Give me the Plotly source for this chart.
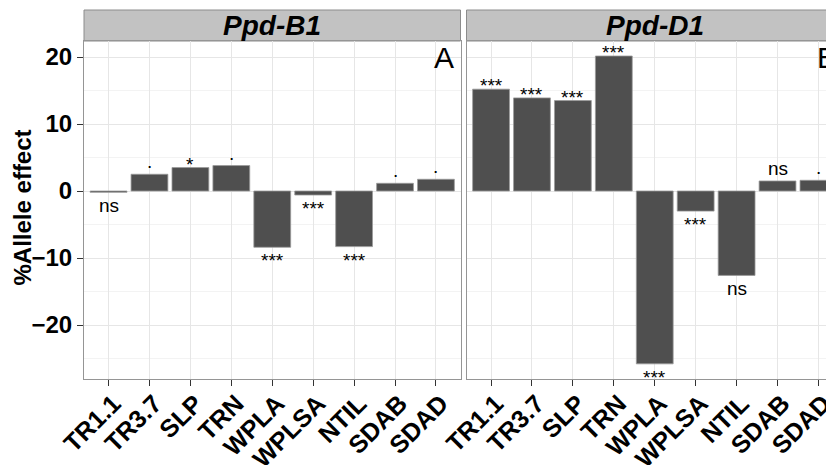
import plotly.graph_objects as go

traits = ["TR1.1", "TR3.7", "SLP", "TRN", "WPLA", "WPLSA", "NTIL", "SDAB", "SDAD"]
b1_effect = [-0.2, 2.5, 3.5, 3.8, -8.4, -0.6, -8.3, 1.15, 1.75]
d1_effect = [15.2, 13.9, 13.5, 20.15, -25.8, -3.0, -12.6, 1.5, 1.6]
b1_sig = ["ns", ".", "*", ".", "***", "***", "***", ".", "."]
d1_sig = ["***", "***", "***", "***", "***", "***", "ns", "ns", "."]
panel_titles = ["Ppd-B1", "Ppd-D1"]
panel_tags = ["A", "B"]
y_title = "%Allele effect"
y_ticks = [-20, -10, 0, 10, 20]

FONT = "Liberation Sans, Arial, Helvetica, sans-serif"
BAR = "#4F4F4F"

fig = go.Figure()
panels = [(b1_effect, b1_sig, "x", "y"), (d1_effect, d1_sig, "x2", "y2")]
for vals, sigs, xa, ya in panels:
    fig.add_trace(go.Bar(x=traits, y=vals, xaxis=xa, yaxis=ya, width=0.9,
                         marker=dict(color=BAR, line=dict(color="#9a9a9a", width=0.8)),
                         showlegend=False, hoverinfo="skip"))

# significance labels
pos_shift = {"***": -9, "*": -9, "ns": 0, ".": 0}
neg_shift = {"***": 1, "*": 1, "ns": 1, ".": 1}
for vals, sigs, xa, ya in panels:
    for t, v, s in zip(traits, vals, sigs):
        if v >= 0:
            fig.add_annotation(x=t, y=v, xref=xa, yref=ya, text=s, showarrow=False,
                               yanchor="bottom", yshift=pos_shift[s],
                               font=dict(family=FONT, size=19, color="black"))
        else:
            fig.add_annotation(x=t, y=v, xref=xa, yref=ya, text=s, showarrow=False,
                               yanchor="top", yshift=-neg_shift[s],
                               font=dict(family=FONT, size=19, color="black"))

# page body has an 8px offset; margins compensate for it
PW = 750.0
x1dom = [0, 376.5 / PW]
x2dom = [382.5 / PW, 1]
YR = [-28.06, 22.39]
STRIP_H = 31 / 338.0

axis_common = dict(showgrid=True, gridcolor="#E6E6E6", gridwidth=1, zeroline=False,
                   ticks="outside", ticklen=6, tickcolor="#333333", tickwidth=1,
                   showline=True, linecolor="#959595", linewidth=1, automargin=False)

xtickfont = dict(family=FONT, size=25, color="black", weight=700)

fig.update_layout(
    template="none",
    width=834, height=465,
    margin=dict(l=76, r=8, t=33, b=94, autoexpand=False),
    paper_bgcolor="white", plot_bgcolor="white",
    bargap=0.1,
    xaxis=dict(domain=x1dom, range=[-0.6, 8.6], type="category", tickangle=-45,
               tickfont=xtickfont, ticklabelshift=5, ticklabelstandoff=-7,
               mirror=True, anchor="y", **axis_common),
    xaxis2=dict(domain=x2dom, range=[-0.6, 8.38], type="category", tickangle=-45,
                tickfont=xtickfont, ticklabelshift=5, ticklabelstandoff=-7,
                mirror=True, anchor="y2", **axis_common),
    yaxis=dict(domain=[0, 1], range=YR, tickvals=y_ticks,
               tickfont=dict(family=FONT, size=24, color="black", weight=700),
               minor=dict(dtick=5, showgrid=True, gridcolor="#F3F3F3", ticks=""),
               mirror=True, anchor="x", **axis_common),
    yaxis2=dict(domain=[0, 1], range=YR, tickvals=y_ticks, showticklabels=False,
                minor=dict(dtick=5, showgrid=True, gridcolor="#F3F3F3", ticks=""),
                anchor="x2", **{**axis_common, "ticks": ""}),
)

# strips
for dom in (x1dom, [x2dom[0], 1.03]):
    fig.add_shape(type="rect", xref="paper", yref="paper", x0=dom[0], x1=dom[1],
                  y0=1, y1=1 + STRIP_H, fillcolor="#C2C2C2",
                  line=dict(color="#8C8C8C", width=1), layer="below")

for title, xa in zip(panel_titles, ["x", "x2"]):
    fig.add_annotation(x=4, y=1 + STRIP_H / 2, xref=xa, yref="paper", text=title,
                       showarrow=False, yanchor="middle",
                       font=dict(family=FONT, size=28, color="black", weight=700, style="italic"))

fig.add_annotation(x=1, y=1, xref="x domain", yref="y domain", text=panel_tags[0],
                   showarrow=False, xanchor="right", yanchor="top", xshift=-5, yshift=2,
                   font=dict(family=FONT, size=30, color="black"))
fig.add_annotation(x=1, y=1, xref="x2 domain", yref="y2 domain", text=panel_tags[1],
                   showarrow=False, xanchor="right", yanchor="top", xshift=5, yshift=2,
                   font=dict(family=FONT, size=30, color="black"))

fig.add_annotation(x=(22 - 84) / PW, y=(379 - 207.5) / 338.0, xref="paper", yref="paper",
                   text=y_title, textangle=-90, showarrow=False,
                   xanchor="center", yanchor="middle",
                   font=dict(family=FONT, size=24, color="black", weight=700))

fig.write_html("out.html")
